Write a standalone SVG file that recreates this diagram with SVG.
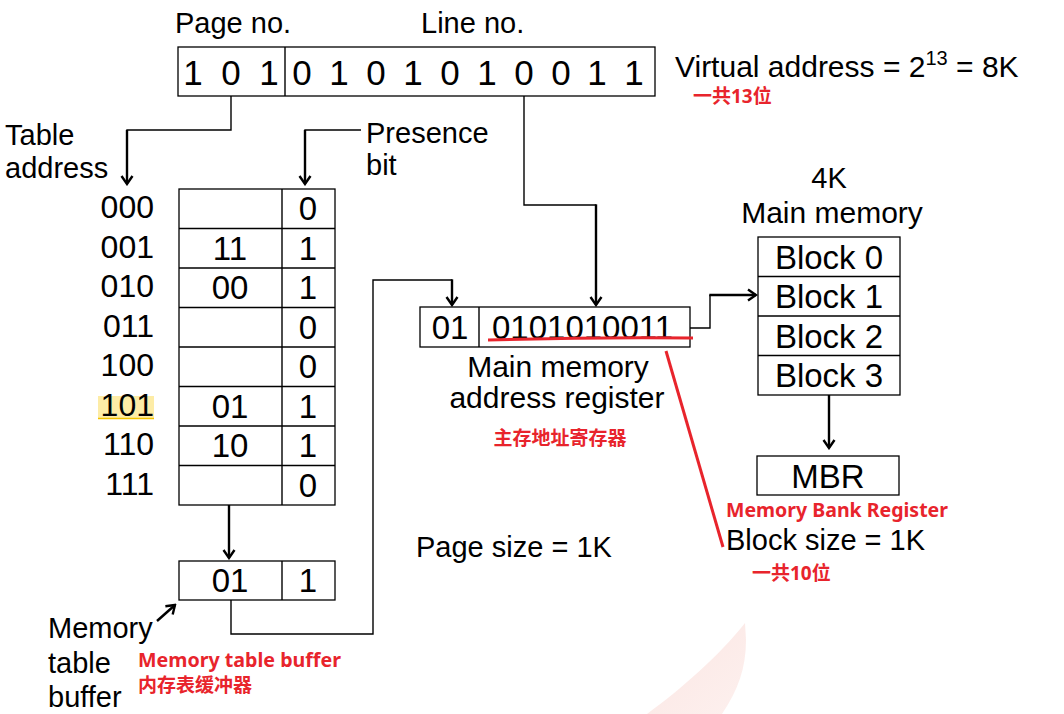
<svg xmlns="http://www.w3.org/2000/svg" width="1064" height="714" viewBox="0 0 1064 714">
<defs>
<marker id="ah" viewBox="-10 -7 12 14" markerWidth="12" markerHeight="14" markerUnits="userSpaceOnUse" refX="0" refY="0" orient="auto">
<path d="M-8,-5.5 L0,0 L-8,5.5" fill="none" stroke="#000" stroke-width="2.4" stroke-linejoin="miter"/>
</marker>
<linearGradient id="wm" x1="0" y1="0" x2="1" y2="1">
<stop offset="0" stop-color="#fbe6e3"/>
<stop offset="1" stop-color="#fdf0ee"/>
</linearGradient>
<style>
.box{fill:#fff;stroke:#000;stroke-width:1.3}
.ln{fill:none;stroke:#000;stroke-width:1.4}
.arr{fill:none;stroke:#000;stroke-width:2.4;marker-end:url(#ah)}
.t{font-family:"Liberation Sans",Arial,sans-serif;fill:#000}
.lbl{font-size:29px}
.dg{font-size:35px;text-anchor:middle}
.cell{font-size:33px;text-anchor:middle}
.adr{font-size:32px;text-anchor:end}
.blk{font-size:33px;text-anchor:middle}
.mid{text-anchor:middle}
.red{font-family:"Noto Sans","Noto Sans CJK SC",sans-serif;font-weight:bold;fill:#e8242c;font-size:19px}
</style>
</defs>
<rect width="1064" height="714" fill="#fff"/>
<path d="M745,623 C720,655 680,690 647,714 L722,714 C738,690 746,668 746,640 Z" fill="url(#wm)"/>

<g id="virtual-address">
<text class="t lbl" x="175" y="33">Page no.</text>
<text class="t lbl" x="421" y="33">Line no.</text>
<rect class="box" x="178" y="47" width="477" height="49"/>
<line class="ln" x1="285" y1="47" x2="285" y2="96"/>
<g class="t dg">
<text x="193" y="85">1</text><text x="231" y="85">0</text><text x="269" y="85">1</text>
<text x="302" y="85">0</text><text x="339" y="85">1</text><text x="376" y="85">0</text><text x="413" y="85">1</text><text x="450" y="85">0</text><text x="487" y="85">1</text><text x="524" y="85">0</text><text x="561" y="85">0</text><text x="597" y="85">1</text><text x="634" y="85">1</text>
</g>
<text class="t" font-size="30" x="675" y="77">Virtual address = 2<tspan font-size="20" dy="-12">13</tspan><tspan dy="12"> = 8K</tspan></text>
<text class="red" x="693" y="103">一共13位</text>
</g>

<g id="table-labels">
<text class="t lbl" x="5" y="145">Table</text>
<text class="t lbl" x="5" y="178">address</text>
<text class="t lbl" x="366" y="143">Presence</text>
<text class="t lbl" x="366" y="175">bit</text>
</g>

<g id="page-table">
<rect x="98" y="396" width="56" height="22" fill="#fdeca6"/>
<line x1="98" y1="418.5" x2="154" y2="418.5" stroke="#f2c200" stroke-width="1.5"/>
<rect class="box" x="179" y="189" width="156" height="316"/>
<line class="ln" x1="282" y1="189" x2="282" y2="505"/>
<g class="ln">
<line x1="179" y1="228.5" x2="335" y2="228.5"/><line x1="179" y1="268" x2="335" y2="268"/><line x1="179" y1="307.5" x2="335" y2="307.5"/><line x1="179" y1="347" x2="335" y2="347"/><line x1="179" y1="386.5" x2="335" y2="386.5"/><line x1="179" y1="426" x2="335" y2="426"/><line x1="179" y1="465.5" x2="335" y2="465.5"/>
</g>
<g class="t adr">
<text x="154" y="218">000</text><text x="154" y="257.5">001</text><text x="154" y="297">010</text><text x="154" y="336.5">011</text><text x="154" y="376">100</text><text x="154" y="415.5">101</text><text x="154" y="455">110</text><text x="154" y="494.5">111</text>
</g>
<g class="t cell">
<text x="230" y="259.5">11</text><text x="230" y="299">00</text><text x="230" y="417.5">01</text><text x="230" y="457">10</text>
<text x="308" y="220">0</text><text x="308" y="259.5">1</text><text x="308" y="299">1</text><text x="308" y="338.5">0</text><text x="308" y="378">0</text><text x="308" y="417.5">1</text><text x="308" y="457">1</text><text x="308" y="496.5">0</text>
</g>
</g>

<g id="memory-table-buffer">
<rect class="box" x="179" y="561" width="156" height="39"/>
<line class="ln" x1="282" y1="561" x2="282" y2="600"/>
<text class="t cell" x="230" y="592">01</text>
<text class="t cell" x="308" y="592">1</text>
<text class="t lbl" x="48" y="638">Memory</text>
<text class="t lbl" x="48" y="673">table</text>
<text class="t lbl" x="48" y="707">buffer</text>
<text class="red" x="138" y="667" textLength="203" lengthAdjust="spacingAndGlyphs">Memory table buffer</text>
<text class="red" x="138" y="692">内存表缓冲器</text>
</g>

<g id="mar">
<rect class="box" x="420" y="307" width="270" height="40"/>
<line class="ln" x1="479" y1="307" x2="479" y2="347"/>
<text class="t cell" x="450" y="339">01</text>
<text class="t" font-size="33" x="492" y="339">0101010011</text>
<path d="M488,340 Q590,337 693,338" fill="none" stroke="#e8242c" stroke-width="3"/>
<text class="t mid" font-size="30" x="558" y="377">Main memory</text>
<text class="t mid" font-size="30" x="557" y="408">address register</text>
<text class="red mid" x="560" y="445">主存地址寄存器</text>
</g>

<g id="main-memory">
<text class="t lbl mid" x="829" y="188">4K</text>
<text class="t mid" font-size="30" x="832" y="223">Main memory</text>
<rect class="box" x="758" y="237" width="142" height="158"/>
<g class="ln">
<line x1="758" y1="276.5" x2="900" y2="276.5"/><line x1="758" y1="316" x2="900" y2="316"/><line x1="758" y1="355.5" x2="900" y2="355.5"/>
</g>
<g class="t blk">
<text x="829" y="268.5">Block 0</text><text x="829" y="308">Block 1</text><text x="829" y="347.5">Block 2</text><text x="829" y="387">Block 3</text>
</g>
</g>

<g id="mbr">
<rect class="box" x="757" y="456" width="142" height="39"/>
<text class="t blk" x="828" y="488">MBR</text>
<text class="red" x="726" y="517" textLength="222" lengthAdjust="spacingAndGlyphs">Memory Bank Register</text>
<text class="t lbl" x="726" y="550">Block size = 1K</text>
<text class="red" x="752" y="580">一共10位</text>
</g>

<g id="other-labels">
<text class="t lbl" x="416" y="557">Page size = 1K</text>
</g>

<g id="connectors">
<polyline class="ln" points="231,96 231,130 127,130 127,140"/>
<line class="arr" x1="127" y1="130" x2="127" y2="184"/>
<polyline class="ln" points="361,130 305,130 305,140"/>
<line class="arr" x1="305" y1="130" x2="305" y2="184"/>
<polyline class="ln" points="524,96 524,205 596,205"/>
<line class="arr" x1="596" y1="204.3" x2="596" y2="305"/>
<line class="arr" x1="229" y1="505" x2="229" y2="558"/>
<polyline class="ln" points="231,600 231,634 373,634 373,280 452,280"/>
<line class="arr" x1="452" y1="279.3" x2="452" y2="305"/>
<polyline class="ln" points="690,328 710,328 710,295"/>
<line class="arr" x1="709.3" y1="295" x2="756" y2="295"/>
<line class="arr" x1="829" y1="395" x2="829" y2="448"/>
<line class="arr" x1="157" y1="621" x2="175" y2="605" stroke-width="2"/>
<line x1="666" y1="351" x2="723" y2="547" stroke="#e8242c" stroke-width="3"/>
</g>
</svg>
